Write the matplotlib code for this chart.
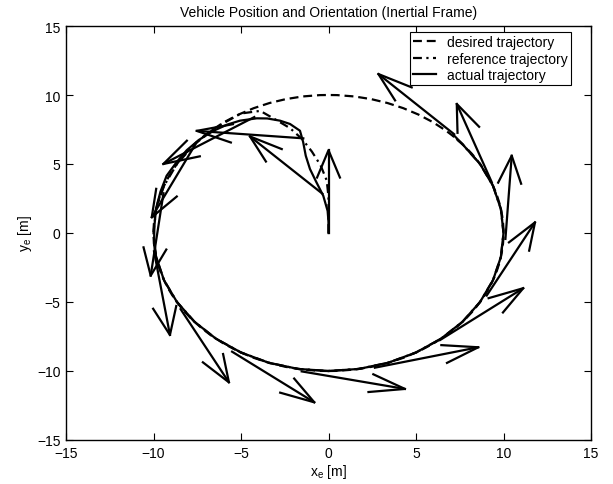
import matplotlib
matplotlib.use("Agg")
import matplotlib.pyplot as plt
from matplotlib.lines import Line2D
from matplotlib.patches import Circle

plt.rcParams['font.family'] = ['Liberation Sans', 'DejaVu Sans']
plt.rcParams['mathtext.default'] = 'regular'

# Desired trajectory: circle about the origin
desired_center = (0.0, 0.0)
desired_radius = 10.0

# Reference trajectory (blends from the start point onto the circle)
ref_x = [0, 0, 0, -0.1, -0.45, -0.95, -1.5, -2.2, -3.0, -3.9, -5.0, -6.43, -7.66,
         -8.66, -9.40, -9.85, -10.0, -9.85, -9.40, -8.66, -7.66, -6.43, -5.00,
         -3.42, -1.74, 0, 1.74, 3.42, 5.0, 6.43, 7.66, 8.66, 9.40, 9.85, 10.0,
         9.85, 9.40, 8.66, 7.66, 7.1]
ref_y = [0, 1.2, 2.6, 3.8, 4.9, 5.9, 6.8, 7.6, 8.2, 8.85, 8.66, 7.66, 6.43,
         5.0, 3.42, 1.74, 0, -1.74, -3.42, -5.0, -6.43, -7.66, -8.66,
         -9.40, -9.85, -10.0, -9.85, -9.40, -8.66, -7.66, -6.43, -5.0, -3.42, -1.74, 0,
         1.74, 3.42, 5.0, 6.43, 7.05]

# Actual vehicle path
act_x = [0, 0, -0.05, -0.3, -0.7, -1.06, -1.3, -1.45, -1.63, -2.2, -2.77, -3.5,
         -4.1, -5.06, -5.8, -6.58, -7.4, -8.1, -8.7, -9.25, -9.6, -9.85, -9.95,
         -9.97, -9.85, -9.40, -8.66, -7.66, -6.43, -5.00, -3.42, -1.74, 0, 1.74,
         3.42, 5.0, 6.43, 7.66, 8.66, 9.40, 9.85, 10.0, 9.85, 9.40, 8.66, 7.66, 7.15]
act_y = [0, 0.8, 1.6, 2.7, 3.7, 4.64, 5.6, 6.6, 7.41, 7.9, 8.14, 8.3,
         8.31, 8.14, 7.85, 7.4, 6.75, 6.0, 5.1, 4.15, 3.0, 1.8, 0.5,
         -0.8, -1.74, -3.42, -5.0, -6.43, -7.66, -8.66, -9.40, -9.85, -10.0, -9.85,
         -9.40, -8.66, -7.66, -6.43, -5.0, -3.42, -1.74, 0, 1.74, 3.42, 5.0, 6.43, 7.1]

# Heading arrows: base position and heading vector
arrow_x = [0, -0.35, -1.44, -4.24, -7.55, -9.43, -9.97, -8.45, -5.51, -1.53,
           2.65, 6.37, 9.04, 10.11, 9.33, 7.18]
arrow_y = [0, 2.85, 6.86, 8.4, 6.54, 2.88, -1.33, -5.52, -8.6, -10.03,
           -9.76, -7.76, -4.53, -0.43, 3.68, 7.16]
arrow_u = [0, -4.14, -6.09, -5.2, -2.55, -0.73, 0.91, 2.76, 4.7, 5.9,
           5.91, 4.76, 2.76, 0.36, -2.0, -4.33]
arrow_v = [6.0, 4.15, 0.54, -3.4, -5.4, -5.97, -6.06, -5.3, -3.67, -1.27,
           1.48, 3.76, 5.3, 6.03, 5.67, 4.36]

fig = plt.figure(figsize=(6.13, 4.85), dpi=100)
ax = fig.add_axes([66 / 613, 44 / 485, 525 / 613, 414 / 485])

lw = 1.6
ax.add_patch(Circle(desired_center, desired_radius, fill=False, edgecolor='black',
                    linewidth=lw, linestyle=(0, (4, 2.2))))
ax.plot(ref_x, ref_y, color='black', linewidth=lw, linestyle=(0, (4, 2, 1, 2)))
ax.plot(act_x, act_y, color='black', linewidth=lw, solid_joinstyle='round')

# Open arrowheads with two barbs
alpha, beta = 0.33, 0.33
for x, y, u, v in zip(arrow_x, arrow_y, arrow_u, arrow_v):
    ax.plot([x, x + u], [y, y + v], color='black', linewidth=lw)
    hx = [x + u - alpha * (u + beta * v), x + u, x + u - alpha * (u - beta * v)]
    hy = [y + v - alpha * (v - beta * u), y + v, y + v - alpha * (v + beta * u)]
    ax.plot(hx, hy, color='black', linewidth=lw)

ax.set_xlim(-15, 15)
ax.set_ylim(-15, 15)
ticks = [-15, -10, -5, 0, 5, 10, 15]
ax.set_xticks(ticks)
ax.set_yticks(ticks)
ax.tick_params(direction='in', top=True, right=True, length=5, width=0.8,
               labelsize=10, pad=4)
for s in ax.spines.values():
    s.set_linewidth(1.0)

ax.set_title('Vehicle Position and Orientation (Inertial Frame)', fontsize=10, pad=7)
ax.set_xlabel('x$_e$ [m]', fontsize=10, labelpad=2)
ax.set_ylabel('y$_e$ [m]', fontsize=10, labelpad=2)

handles = [
    Line2D([], [], color='black', linewidth=lw, linestyle=(0, (4, 2.2))),
    Line2D([], [], color='black', linewidth=lw, linestyle=(0, (4, 2, 1, 2))),
    Line2D([], [], color='black', linewidth=lw),
]
leg = ax.legend(handles, ['desired trajectory', 'reference trajectory', 'actual trajectory'],
                loc='upper right', bbox_to_anchor=(0.962, 0.986), fontsize=10,
                frameon=True, fancybox=False, edgecolor='black', framealpha=1,
                handlelength=1.6, handletextpad=0.8, borderpad=0.25, labelspacing=0.17,
                borderaxespad=0)
leg.get_frame().set_linewidth(0.8)

fig.savefig('out.png', dpi=100)
